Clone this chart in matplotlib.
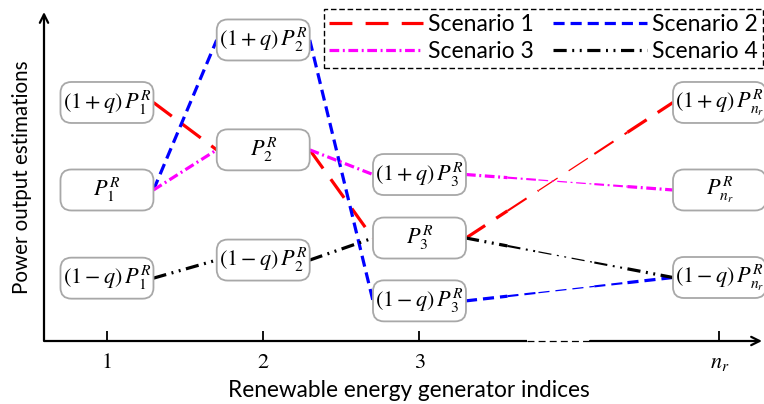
import matplotlib
matplotlib.use('Agg')
import matplotlib.pyplot as plt
import matplotlib.transforms as mtransforms
from matplotlib.patches import FancyBboxPatch
from matplotlib.lines import Line2D

plt.rcParams['mathtext.fontset'] = 'stix'
plt.rcParams['lines.scale_dashes'] = False

# ---------------- data ----------------
tick_labels = ['1', '2', '3', r'$n_r$']
gen_subscripts = ['1', '2', '3', 'n_r']
gen_index = [1, 2, 3, 4.92]          # n_r drawn after an axis break
high_est = [7.25, 9.15, 5.06, 7.25]      # (1+q) P^R
nominal_est = [4.59, 5.81, 3.13, 4.59]   # P^R
low_est = [1.91, 2.46, 1.22, 1.93]       # (1-q) P^R
scenario_names = ['Scenario 1', 'Scenario 2', 'Scenario 3', 'Scenario 4']
scenario_paths = [
    ['high', 'nominal', 'nominal', 'high'],
    ['nominal', 'high', 'low', 'low'],
    ['nominal', 'nominal', 'high', 'nominal'],
    ['low', 'low', 'nominal', 'low'],
]

# ---------------- styles ----------------
scenario_colors = ['#ff0000', '#0000ff', '#ff00ff', '#000000']
scenario_dashes = [
    (0, (16.5, 9.5)),
    (0, (8, 4.3)),
    (0, (7, 2.6, 1.4, 2.6)),
    (0, (9.5, 4.0, 1.4, 4.0, 1.4, 4.0)),
]
SANS = ['Lato', 'DejaVu Sans']
W, H = 764, 404
BOX_W, BOX_H = 93, 41   # px

fig = plt.figure(figsize=(W / 100, H / 100), dpi=100)
ax = fig.add_axes([44 / W, (H - 341) / H, (762 - 44) / W, (341 - 12) / H])
ax.set_xlim(0.597, 5.192)
ax.set_ylim(0, 10)
for s in ax.spines.values():
    s.set_visible(False)

# axes with arrows and break
axis_kw = dict(color='black', lw=1.6, transform=ax.transAxes, clip_on=False)
brk0, brk1 = (527 - 44) / 718, (590 - 44) / 718
ax.plot([0, brk0], [0, 0], solid_capstyle='butt', **axis_kw)
ax.plot([brk0, brk1], [0, 0], color='black', lw=0.9, linestyle=(0, (5, 3)),
        transform=ax.transAxes, clip_on=False)
ax.annotate('', xy=(1.0, 0), xytext=(brk1, 0), xycoords='axes fraction',
            arrowprops=dict(arrowstyle='->,head_length=0.6,head_width=0.3', lw=1.6,
                            color='black', shrinkA=0, shrinkB=0))
ax.annotate('', xy=(0, 1.0), xytext=(0, 0), xycoords='axes fraction',
            arrowprops=dict(arrowstyle='->,head_length=0.6,head_width=0.3', lw=1.6,
                            color='black', shrinkA=0, shrinkB=0))

ax.set_xticks(gen_index)
ax.set_xticklabels(tick_labels, fontsize=16, family='STIXGeneral')
ax.tick_params(axis='x', direction='in', length=7, width=1.3, pad=9)
ax.set_yticks([])

levels = {'high': high_est, 'nominal': nominal_est, 'low': low_est}


def box_label(level, sub):
    if level == 'high':
        return r'$\left(1+q\right)\,P_{%s}^{R}$' % sub
    if level == 'low':
        return r'$\left(1-q\right)\,P_{%s}^{R}$' % sub
    return r'$P_{%s}^{R}$' % sub


# boxes
for i, x in enumerate(gen_index):
    for lev, vals in levels.items():
        y = vals[i]
        tr = fig.dpi_scale_trans + mtransforms.ScaledTranslation(x, y, ax.transData)
        p = FancyBboxPatch((-BOX_W / 200, -BOX_H / 200), BOX_W / 100, BOX_H / 100,
                           boxstyle='round,pad=0,rounding_size=0.11',
                           transform=tr, facecolor='white', edgecolor='#a8a8a8',
                           lw=1.3, zorder=3, clip_on=False)
        ax.add_artist(p)
        ax.text(x, y, box_label(lev, gen_subscripts[i]), ha='center', va='center',
                fontsize=16, zorder=4, clip_on=False)


def edge(x, y, side):
    px = ax.transData.transform((x, y))
    px[0] += side * BOX_W / 2
    return ax.transData.inverted().transform(px)


taper = [(0.0, 0.2, 2.3), (0.2, 0.35, 1.5), (0.35, 0.62, 0.9), (0.62, 0.78, 1.5), (0.78, 1.0, 2.3)]

for k, path in enumerate(scenario_paths):
    col, ls = scenario_colors[k], scenario_dashes[k]
    for i in range(len(path) - 1):
        x0, y0 = edge(gen_index[i], levels[path[i]][i], +1)
        x1, y1 = edge(gen_index[i + 1], levels[path[i + 1]][i + 1], -1)
        if i < len(path) - 2:
            ax.plot([x0, x1], [y0, y1], color=col, lw=2.3, linestyle=ls, zorder=2,
                    dash_capstyle='butt')
        else:
            for a, b, w in taper:
                ax.plot([x0 + a * (x1 - x0), x0 + b * (x1 - x0)],
                        [y0 + a * (y1 - y0), y0 + b * (y1 - y0)],
                        color=col, lw=w, linestyle=ls, zorder=2, dash_capstyle='butt')

# legend
handles = [Line2D([], [], color=scenario_colors[k], lw=2.3, linestyle=scenario_dashes[k])
           for k in range(4)]
order = [0, 2, 1, 3]
leg = fig.legend([handles[k] for k in order], [scenario_names[k] for k in order],
                 ncol=2, loc='upper right', bbox_to_anchor=(763 / W, 1 - 9 / H),
                 frameon=True, fancybox=False, edgecolor='black', framealpha=1,
                 prop=dict(family=SANS, size=16.5), handlelength=4.1, handletextpad=0.22,
                 columnspacing=0.85, labelspacing=0.28, borderpad=0.22, borderaxespad=0)
leg.get_frame().set_linestyle((0, (4, 2)))
leg.get_frame().set_linewidth(1.0)

fig.text(409 / W, 1 - 397 / H, 'Renewable energy generator indices', ha='center',
         va='baseline', fontsize=16.3, family=SANS)
fig.text(22 / W, 1 - 177 / H, 'Power output estimations', ha='center', va='center',
         rotation=90, fontsize=14.8, family=SANS)

fig.savefig('out.png', dpi=100)
